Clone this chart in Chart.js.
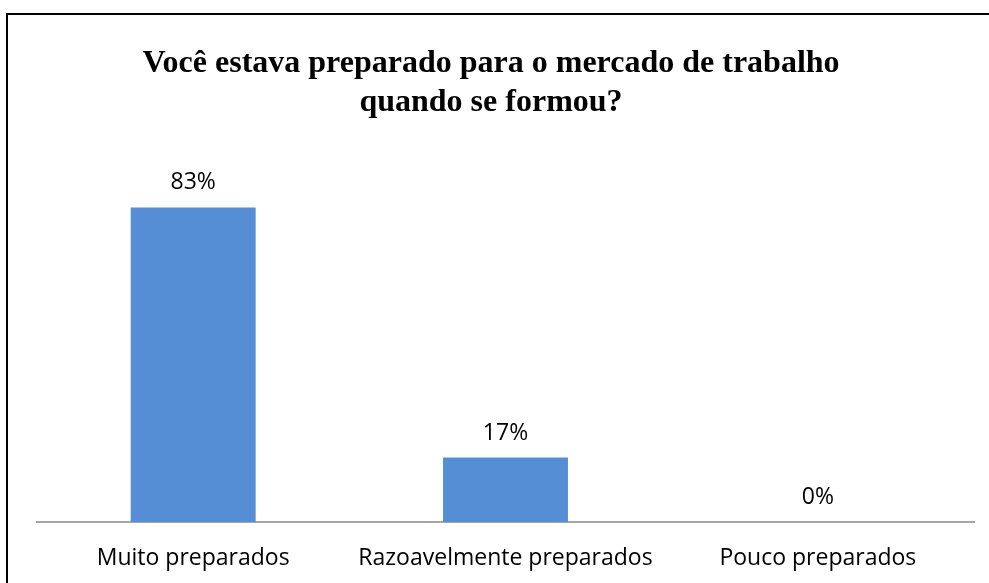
<!DOCTYPE html>
<html>
<head>
<meta charset="utf-8">
<script src="https://cdn.jsdelivr.net/npm/chart.js@4.4.1/dist/chart.umd.min.js"></script>
<style>
  html, body { margin: 0; padding: 0; background: #fff; overflow: hidden; }
  #wrap { position: absolute; left: 0; top: 0; width: 989px; height: 583px; }
  #frame { position: absolute; left: 6px; top: 13px; width: 1000px; height: 600px;
           border: 2px solid #000; pointer-events: none; }
</style>
</head>
<body>
<div id="wrap"><canvas id="myChart" width="989" height="583"></canvas></div>
<div id="frame"></div>
<script>
const categories = ['Muito preparados', 'Razoavelmente preparados', 'Pouco preparados'];
const percents = [83, 17, 0];
const titleLines = ['Você estava preparado para o mercado de trabalho', 'quando se formou?'];

// writes the % value above each bar
const barLabels = {
  id: 'barLabels',
  afterDatasetsDraw(chart) {
    const ctx = chart.ctx;
    const meta = chart.getDatasetMeta(0);
    ctx.save();
    ctx.font = '23px "Open Sans"';
    ctx.fillStyle = '#000';
    ctx.textAlign = 'center';
    ctx.textBaseline = 'alphabetic';
    meta.data.forEach((bar, i) => {
      ctx.fillText(percents[i] + '%', bar.x, bar.y - 18);
    });
    ctx.restore();
  }
};

const ctx = document.getElementById('myChart');
new Chart(ctx, {
  type: 'bar',
  data: {
    labels: categories,
    datasets: [
      {
        label: 'Percentual',
        data: percents,
        backgroundColor: '#558ED5',
        borderWidth: 0,
        barPercentage: 0.4,
        categoryPercentage: 1
      }
    ]
  },
  options: {
    responsive: false,
    animation: false,
    devicePixelRatio: 1,
    layout: {
      padding: { left: 0, right: 7, top: 0, bottom: 0 }
    },
    plugins: {
      legend: { display: false },
      tooltip: { enabled: false },
      title: {
        display: true,
        text: titleLines,
        color: '#000',
        font: { family: '"Liberation Serif"', size: 32, weight: 'bold', lineHeight: 1.22 },
        padding: { top: 44, bottom: 21 }
      }
    },
    scales: {
      y: {
        min: 0,
        max: 100,
        afterFit(scale) { scale.width = 37; },
        ticks: { display: false },
        grid: { display: false },
        border: { display: false }
      },
      // empty spacer on the right so the title stays centred on the frame
      yRight: {
        position: 'right',
        display: true,
        afterFit(scale) { scale.width = 8; },
        ticks: { display: false },
        grid: { display: false },
        border: { display: false }
      },
      x: {
        afterFit(scale) { scale.height = 61; },
        grid: { display: false, drawTicks: false },
        border: { display: true, color: '#A6A6A6', width: 2 },
        ticks: {
          color: '#000',
          padding: 23,
          font: { family: '"Open Sans"', size: 23 }
        }
      }
    }
  },
  plugins: [barLabels]
});
</script>
</body>
</html>
